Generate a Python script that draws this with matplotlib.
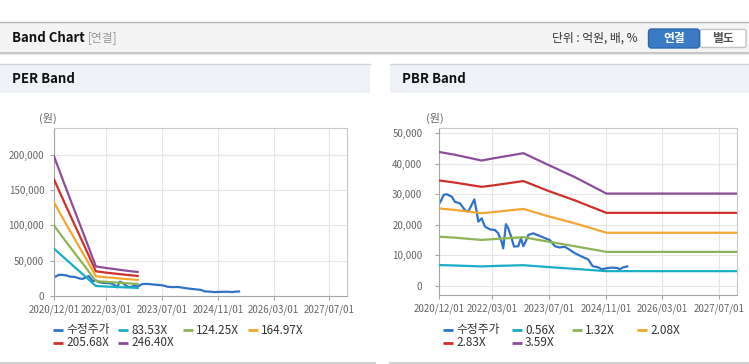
import matplotlib.pyplot as plt
import matplotlib.dates as mdates
import matplotlib.ticker as mticker
from matplotlib.patches import Rectangle, FancyBboxPatch
import pandas as pd

plt.rcParams['font.family'] = ['Noto Sans CJK KR', 'DejaVu Sans']

# 수정주가 (same series on both charts)
price_dates = ['2020-12-01', '2020-12-20', '2021-01-10', '2021-02-05', '2021-03-20', '2021-04-17',
               '2021-05-30', '2021-07-12', '2021-08-09', '2021-09-07', '2021-09-30', '2021-10-20',
               '2021-11-03', '2021-12-02', '2021-12-30', '2022-02-11', '2022-03-26', '2022-04-23',
               '2022-05-22', '2022-06-05', '2022-06-28', '2022-07-18', '2022-08-16', '2022-09-05',
               '2022-10-12', '2022-11-04', '2022-11-24', '2022-12-14', '2023-01-06', '2023-02-18',
               '2023-04-30', '2023-07-10', '2023-08-22', '2023-10-01', '2023-11-16', '2023-12-29',
               '2024-02-09', '2024-04-21', '2024-06-03', '2024-07-10', '2024-08-27', '2024-09-25',
               '2024-11-07', '2024-12-20', '2025-02-06', '2025-03-01', '2025-03-30', '2025-05-03']
price_values = [26800, 28000, 29800, 30000, 29200, 27500,
                27000, 24800, 24300, 26500, 28300, 24300,
                21000, 22100, 19400, 18500, 18300, 17200,
                14500, 12300, 20200, 18900, 15600, 12900,
                13000, 15600, 13000, 14500, 16700, 17200,
                16100, 15000, 13000, 12600, 12800, 11800,
                10700, 9400, 8700, 6500, 6100, 5500,
                5800, 6000, 5900, 5500, 6100, 6400]

# PER band
per_dates = ['2020-12-01', '2021-03-01', '2021-06-01', '2021-09-01', '2021-12-01',
             '2022-03-01', '2022-06-01', '2022-09-01', '2022-12-01']
per_names = ['83.53X', '124.25X', '164.97X', '205.68X', '246.40X']
per_083 = [67100, 53900, 40700, 27500, 14200, 13400, 12800, 12100, 11500]
per_124 = [99800, 80100, 60500, 40900, 21100, 20000, 19000, 18000, 17100]
per_165 = [132500, 106400, 80300, 54300, 28000, 26600, 25200, 23900, 22800]
per_206 = [165200, 132700, 100200, 67700, 35000, 33100, 31500, 29800, 28400]
per_246 = [197900, 158900, 120000, 81100, 41900, 39700, 37700, 35700, 34000]

# PBR band
pbr_dates = ['2020-12-01', '2021-04-15', '2021-12-01', '2022-03-25', '2022-11-25',
             '2023-06-25', '2024-02-08', '2024-11-06', '2027-12-01']
pbr_names = ['0.56X', '1.32X', '2.08X', '2.83X', '3.59X']
pbr_056 = [6850, 6700, 6400, 6550, 6800, 6200, 5600, 4850, 4850]
pbr_132 = [16100, 15800, 15050, 15350, 15950, 14500, 13000, 11150, 11150]
pbr_208 = [25350, 24850, 23800, 24200, 25200, 22800, 20500, 17400, 17400]
pbr_283 = [34500, 33800, 32400, 32950, 34300, 31100, 28000, 23900, 23900]
pbr_359 = [43800, 42900, 41000, 41800, 43400, 39600, 35600, 30200, 30200]

x_ticks = ['2020-12-01', '2022-03-01', '2023-07-01', '2024-11-01', '2026-03-01', '2027-07-01']
x_range = ['2020-12-01', '2027-12-01']

price_color = '#2f72c6'
band_colors = ['#19adc6', '#8db356', '#f2a732', '#d0302b', '#8d4e99']

W, H = 749, 364
fig = plt.figure(figsize=(W / 100, H / 100), dpi=100, facecolor='white')

# page decoration layer in pixel coordinates
bg = fig.add_axes([0, 0, 1, 1], zorder=0)
bg.set_xlim(0, W)
bg.set_ylim(H, 0)
bg.axis('off')

bg.add_patch(Rectangle((0, 22), W, 30, facecolor='#f4f4f4', edgecolor='none'))
bg.plot([0, W], [22, 22], color='#b4b4b4', lw=1)
bg.plot([0, W], [52.5, 52.5], color='#c4c4c4', lw=1.5)
bg.plot([0, W], [54, 54], color='#e6e6e6', lw=1)
bg.text(12, 38, 'Band Chart', fontsize=9.5, fontweight='bold', color='#111111', va='center')
bg.text(88, 38, '[연결]', fontsize=8.5, color='#999999', va='center')
bg.text(552, 38, '단위 : 억원, 배, %', fontsize=8.5, color='#333333', va='center')
bg.add_patch(FancyBboxPatch((700, 29.5), 46, 18, boxstyle='round,pad=0,rounding_size=2',
                            facecolor='white', edgecolor='#c4c4c4', lw=1))
bg.add_patch(FancyBboxPatch((648.5, 29), 51, 19, boxstyle='round,pad=0,rounding_size=3',
                            facecolor='#3b7bc3', edgecolor='#2e67aa', lw=1))
bg.text(674, 38.5, '연결', fontsize=8.5, fontweight='bold', color='white', ha='center', va='center')
bg.text(723, 38.5, '별도', fontsize=8.5, fontweight='bold', color='#555555', ha='center', va='center')

for x0, x1, title in [(0, 370, 'PER Band'), (390, W, 'PBR Band')]:
    bg.add_patch(Rectangle((x0, 64), x1 - x0, 29, facecolor='#eef2f7', edgecolor='none'))
    bg.plot([x0, x1], [64, 64], color='#d4d4d4', lw=1)
    bg.text(x0 + 12, 79, title, fontsize=9.5, fontweight='bold', color='#111111', va='center')

bg.plot([0, 375], [363, 363], color='#d2d2d2', lw=1.5)
bg.plot([390, W], [363, 363], color='#d2d2d2', lw=1.5)
bg.text(39, 118, '(원)', fontsize=8, color='#666666', va='center')
bg.text(426, 118, '(원)', fontsize=8, color='#666666', va='center')


def legend_keys(xs, ys, names, colors):
    for x, y, name, c in zip(xs, ys, names, colors):
        bg.plot([x, x + 10], [y, y], color=c, lw=2, solid_capstyle='butt')
        bg.text(x + 13, y, name, fontsize=8.5, color='#333333', va='center')


def band_chart(rect, band_dates, bands, names, ylim, ystep, label_pad, legend_x):
    ax = fig.add_axes(rect, zorder=1)
    ax.plot(pd.to_datetime(price_dates), price_values, color=price_color, lw=1.6, zorder=2)
    bd = pd.to_datetime(band_dates)
    for vals, c in zip(bands, band_colors):
        ax.plot(bd, vals, color=c, lw=1.6, zorder=3)

    ax.set_xlim(pd.to_datetime(x_range))
    ax.set_ylim(ylim)
    ax.set_xticks(pd.to_datetime(x_ticks))
    ax.xaxis.set_major_formatter(mdates.DateFormatter('%Y/%m/%d'))
    ax.yaxis.set_major_locator(mticker.MultipleLocator(ystep))
    ax.yaxis.set_major_formatter(mticker.FuncFormatter(lambda v, p: f'{v:,.0f}'))
    ax.grid(True, color='#e6e6e6', lw=0.8)
    ax.set_axisbelow(True)
    for side in ['top', 'right']:
        ax.spines[side].set_color('#c8c8c8')
    for side in ['left', 'bottom']:
        ax.spines[side].set_color('#a6a6a6')
    ax.tick_params(axis='x', length=3, color='#a6a6a6', labelsize=7, labelcolor='#666666', pad=3)
    ax.tick_params(axis='y', length=3, color='#a6a6a6', labelsize=7, labelcolor='#666666', pad=label_pad)

    legend_keys([legend_x[0], legend_x[1], legend_x[2], legend_x[3], legend_x[0], legend_x[1]],
                [330, 330, 330, 330, 343, 343],
                ['수정주가'] + names, [price_color] + band_colors)
    return ax


band_chart([54 / W, 1 - 296 / H, 293 / W, 168 / H], per_dates,
           [per_083, per_124, per_165, per_206, per_246], per_names,
           (0, 238000), 50000, 4, [53, 118, 183, 248])
band_chart([439 / W, 1 - 295 / H, 298 / W, 167 / H], pbr_dates,
           [pbr_056, pbr_132, pbr_208, pbr_283, pbr_359], pbr_names,
           (-2940, 51630), 10000, 9, [443, 512, 572, 637])

fig.savefig('out.png', dpi=100, facecolor='white')
